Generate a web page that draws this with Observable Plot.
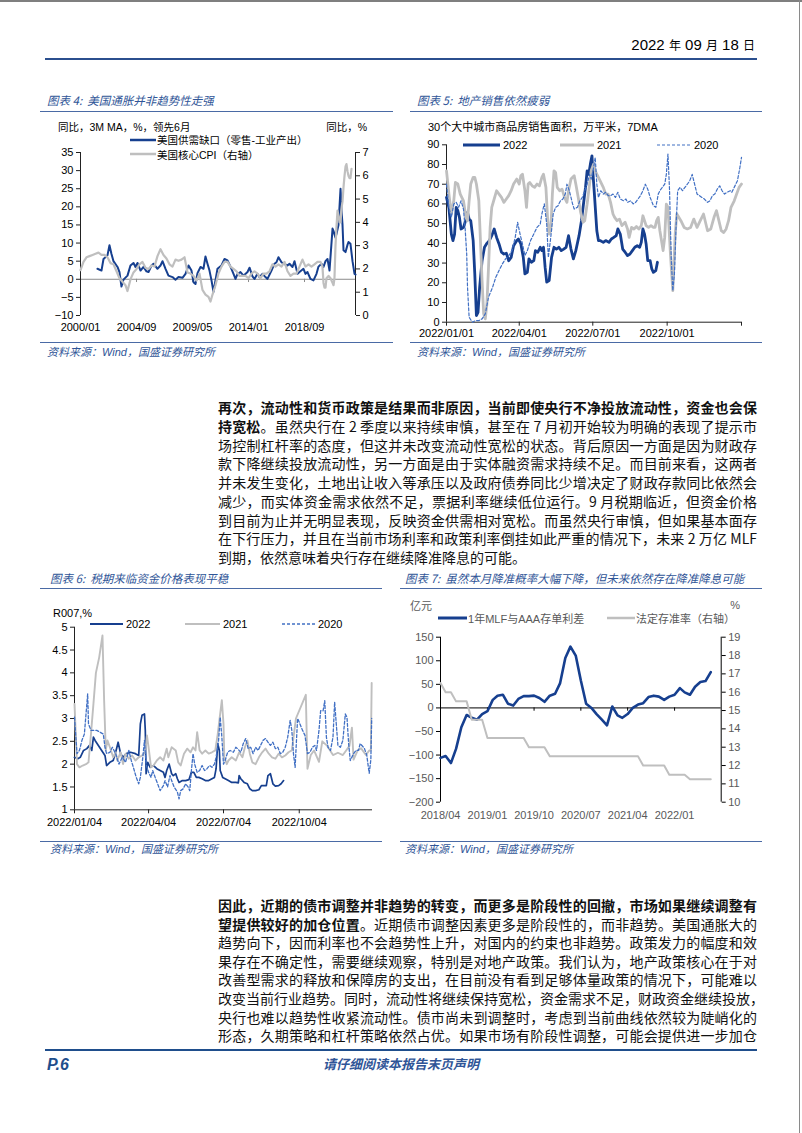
<!DOCTYPE html>
<html><head><meta charset="utf-8">
<script src="https://cdn.jsdelivr.net/npm/d3@7"></script>
<script src="https://cdn.jsdelivr.net/npm/@observablehq/plot@0.6"></script>
<style>
html,body{margin:0;padding:0;background:#fff;}
#page{position:relative;width:802px;height:1133px;overflow:hidden;background:#fff;}
#page svg{position:absolute;overflow:visible;}
</style></head>
<body><div id="page"></div>
<script>
// ---------------- DATA ----------------
// Chart 4: US core CPI YoY (right axis) and supply-demand gap (left axis, lead 6m)
const cpiCore = [["2000-01",1.95],["2000-04",2.3],["2000-07",2.5],["2000-10",2.55],["2001-01",2.6],["2001-04",2.65],["2001-07",2.7],["2001-10",2.6],["2002-01",2.6],["2002-04",2.5],["2002-07",2.25],["2002-10",2.2],["2003-01",1.9],["2003-04",1.6],["2003-07",1.45],["2003-10",1.3],["2003-12",1.05],["2004-03",1.55],["2004-06",1.85],["2004-09",2.0],["2004-12",2.2],["2005-03",2.3],["2005-06",2.05],["2005-09",2.0],["2005-12",2.15],["2006-03",2.1],["2006-06",2.55],["2006-09",2.85],["2006-12",2.6],["2007-03",2.45],["2007-06",2.2],["2007-09",2.1],["2007-12",2.4],["2008-03",2.35],["2008-06",2.4],["2008-09",2.5],["2008-12",1.85],["2009-03",1.8],["2009-06",1.7],["2009-09",1.5],["2009-12",1.8],["2010-03",1.1],["2010-06",0.9],["2010-09",0.8],["2010-11",0.6],["2011-01",0.9],["2011-04",1.3],["2011-07",1.8],["2011-10",2.1],["2012-01",2.3],["2012-04",2.3],["2012-07",2.1],["2012-10",2.0],["2013-01",1.9],["2013-04",1.7],["2013-07",1.7],["2013-10",1.7],["2014-01",1.6],["2014-04",1.8],["2014-07",1.9],["2014-10",1.8],["2015-01",1.6],["2015-04",1.8],["2015-07",1.8],["2015-10",1.9],["2016-01",2.2],["2016-04",2.1],["2016-07",2.2],["2016-10",2.1],["2017-01",2.3],["2017-04",1.9],["2017-07",1.7],["2017-10",1.8],["2018-01",1.8],["2018-04",2.1],["2018-07",2.4],["2018-10",2.1],["2019-01",2.2],["2019-04",2.1],["2019-07",2.2],["2019-10",2.3],["2020-01",2.3],["2020-03",2.1],["2020-04",1.4],["2020-05",1.2],["2020-06",1.2],["2020-07",1.6],["2020-09",1.7],["2020-11",1.6],["2021-01",1.4],["2021-02",1.3],["2021-03",1.6],["2021-04",3.0],["2021-05",3.8],["2021-06",4.5],["2021-07",4.3],["2021-08",4.0],["2021-09",4.0],["2021-10",4.6],["2021-11",4.9],["2021-12",5.5],["2022-01",6.0],["2022-02",6.4],["2022-03",6.5],["2022-04",6.2],["2022-05",6.0],["2022-06",5.9],["2022-07",5.9],["2022-08",6.3]];
const supplyGap = [["2001-06",2.9],["2001-10",2.4],["2001-12",5.6],["2002-04",6.6],["2002-06",9.4],["2002-08",7.0],["2002-10",5.0],["2003-02",3.4],["2003-04",2.0],["2003-06",-2.0],["2003-08",-0.1],["2003-12",1.0],["2004-03",3.8],["2004-06",4.5],["2004-08",3.4],["2004-10",4.5],["2005-01",2.4],["2005-04",3.4],["2005-07",2.2],["2005-09",2.0],["2005-12",3.8],["2006-02",4.3],["2006-06",2.9],["2006-09",3.8],["2006-11",5.0],["2007-02",2.9],["2007-05",1.0],["2007-09",0.6],["2007-12",-0.1],["2008-03",0.6],["2008-07",0.4],["2008-10",1.5],["2009-01",3.8],["2009-04",2.4],["2009-06",-0.8],["2009-08",-1.3],["2009-10",1.7],["2010-01",3.4],["2010-04",2.9],["2010-06",6.3],["2010-08",4.3],["2010-10",2.4],["2010-12",-0.3],["2011-02",-3.5],["2011-04",-0.3],["2011-06",2.9],["2011-10",3.8],["2012-01",5.6],["2012-04",5.2],["2012-07",3.5],["2012-10",1.5],["2012-12",0.1],["2013-02",1.5],["2013-05",2.0],["2013-08",1.0],["2013-12",2.0],["2014-02",3.2],["2014-05",0.8],["2014-07",0.1],["2014-10",1.5],["2014-12",0.6],["2015-03",1.5],["2015-06",0.6],["2015-08",0.1],["2015-12",2.4],["2016-03",4.3],["2016-05",4.7],["2016-07",6.1],["2016-10",4.7],["2016-12",4.3],["2017-04",3.8],["2017-06",4.3],["2017-09",3.4],["2017-11",5.0],["2018-02",1.5],["2018-04",2.0],["2018-08",2.9],["2018-10",1.5],["2018-12",2.0],["2019-03",0.1],["2019-06",-0.3],["2019-09",1.5],["2019-11",3.5],["2020-02",4.3],["2020-04",3.4],["2020-06",5.0],["2020-08",5.6],["2020-10",2.4],["2021-01",14.0],["2021-02",13.3],["2021-04",11.5],["2021-05",12.5],["2021-07",15.0],["2021-09",25.0],["2021-10",19.0],["2021-11",15.0],["2021-12",8.0],["2022-02",7.5],["2022-04",9.5],["2022-05",10.3],["2022-07",9.8],["2022-09",5.0],["2022-11",1.5],["2022-12",1.3]];
const c4XTicks = ["2000-01","2004-09","2009-05","2014-01","2018-09"];

// Chart 5: 30-city property sales area, 7DMA (day of year, value)
const sales2022 = [[0,63.3],[3,58],[6,44.7],[8,41.4],[10,44.7],[12,58.3],[14,56.6],[16,53.2],[18,47.3],[21,48.1],[23,50.7],[26,55.7],[28,52.3],[30,51.5],[33,41.4],[35,24.5],[37,3.4],[39,5],[41,17.7],[44,31.2],[47,38],[50,40],[53,41.4],[56,43.9],[59,47.3],[62,43],[65,39.7],[68,35.5],[71,34.6],[74,35],[77,31.2],[80,32.9],[83,38.8],[87,41.4],[89,42.2],[92,39.7],[95,32.9],[97,24.5],[100,25.3],[102,32.1],[105,30.4],[108,31.2],[110,36.3],[113,35.5],[116,38],[118,36.3],[120,38],[122,27.9],[124,20.3],[127,21.1],[130,32.9],[133,38],[136,37.1],[139,38],[142,36.3],[145,37.1],[148,38],[151,43.9],[154,37.1],[157,32.1],[160,36.3],[164,43.9],[167,51.5],[169,58.3],[172,68.4],[174,76.8],[176,75.1],[178,80.2],[180,84.4],[181,76.8],[183,65],[186,46.4],[188,41.4],[190,41.4],[194,40.5],[197,41.4],[201,40.5],[204,42.2],[207,43],[210,43.9],[212,47.3],[215,44.7],[218,37.1],[221,35.5],[224,33.8],[227,34.6],[230,36.3],[233,38],[236,38.8],[239,38],[241,40.5],[243,47.3],[245,44.7],[247,39.7],[249,31.2],[252,31.2],[254,27],[256,25.3],[259,26.2],[261,30.4]];
const sales2021 = [[0,76.8],[3,65],[6,54.9],[9,61.6],[11,70.9],[14,70.1],[17,65],[21,61.6],[24,53.2],[26,51.5],[28,61.6],[30,70.1],[33,73.5],[35,73.5],[37,70.1],[40,61.6],[42,41.4],[44,21.1],[46,4.2],[48,1.7],[50,9.3],[52,27.9],[54,48.1],[56,58.3],[59,62.5],[62,66.7],[65,65],[68,63.3],[71,60.8],[74,62.5],[77,64.2],[80,66.7],[83,70.1],[87,72.6],[90,70.1],[92,74.3],[94,75.1],[97,66.7],[99,58.3],[101,70.1],[103,70.9],[106,69.2],[109,68.4],[112,70.1],[115,69.2],[118,73.5],[120,75.1],[123,68.4],[125,53.2],[127,44.7],[129,46.4],[131,65],[133,76.8],[135,76],[137,68.4],[140,66.7],[143,67.5],[146,63.3],[149,60.8],[151,66.7],[154,72.6],[158,74.3],[160,70.1],[163,63.3],[166,55.7],[169,50.7],[171,51.5],[174,59.9],[177,70.1],[179,76.8],[182,80.2],[184,76.8],[188,73.5],[191,70.9],[194,68.4],[197,65],[200,65],[203,60.8],[206,54.9],[208,53.2],[211,51.5],[214,52.3],[217,49],[221,50.7],[224,47.3],[226,43],[229,48.1],[232,47.3],[235,48.5],[238,47.3],[241,49],[243,54],[245,51.5],[247,49],[250,48.1],[253,49],[256,48.1],[258,48.1],[260,51.5],[262,53.2],[264,46.4],[266,41.4],[268,36.3],[270,43],[272,59.9],[274,58.3],[277,35],[280,16],[283,45],[285,54.9],[290,51.5],[294,48.1],[298,47.3],[302,48],[306,52.3],[310,48.1],[314,51.5],[318,54.9],[323,46.4],[327,47.3],[331,53.2],[334,56.6],[337,51.5],[340,46.4],[343,45.5],[346,47.3],[349,51.5],[352,58.3],[356,61.6],[359,65],[362,68.4],[365,70.1]];
const sales2020 = [[0,70],[3,58.3],[6,53.2],[9,60],[12,60.8],[15,58.3],[18,61.6],[21,57.4],[23,48],[25,34.6],[26,17.7],[28,2.5],[32,0],[36,0.8],[40,0.8],[44,1.7],[48,4.2],[52,12.7],[57,17.7],[61,22.8],[65,26.2],[69,29.5],[73,32.1],[77,33.8],[81,36.3],[85,43],[88,50.7],[91,44.7],[94,39.7],[97,33.8],[100,36.3],[104,41.4],[108,44.7],[112,48.1],[116,49.8],[118,54.9],[121,60],[124,49.8],[126,32.9],[129,43],[132,54.9],[135,58.3],[138,59.1],[141,61.6],[144,62.5],[147,65],[149,70],[152,66.7],[156,60],[158,57.4],[162,58.3],[165,61.6],[168,63.3],[171,66.7],[174,70],[177,75],[179,72.6],[182,78.5],[184,83.6],[186,70],[188,63.3],[191,66.7],[194,65],[197,65.9],[200,64.2],[203,64.2],[206,65],[209,63.3],[212,65.9],[215,62.5],[219,61.6],[222,62.5],[224,60.8],[228,61.6],[231,60],[234,60.8],[237,62.5],[240,64.2],[243,66.7],[246,70],[249,67.5],[252,63.3],[256,59.1],[259,58.3],[262,65],[264,66.7],[267,68.4],[270,70],[272,75],[274,85.3],[276,66.7],[278,32.9],[280,16],[282,24.5],[284,48.1],[286,66.7],[289,68.4],[292,66.7],[295,68.4],[298,70],[301,71.8],[304,75],[307,70],[310,65],[313,64.2],[316,63.3],[319,62.5],[323,60.8],[326,61.6],[329,64.2],[332,65],[335,67.5],[338,69.2],[341,66.7],[344,65],[347,65.9],[351,66.7],[353,65.9],[356,68.4],[360,71.8],[363,78.5],[365,83.6]];
const c5XTicks = ["2022-01-01","2022-04-01","2022-07-01","2022-10-01","2023-01-01"];

// Chart 6: R007 (%), days since Jan 4
const r2022 = [[0,2.15],[4,2.12],[7,2.15],[11,2.3],[15,2.34],[18,2.41],[21,2.3],[23,2.59],[25,2.52],[29,2.41],[33,2.3],[37,2.19],[39,1.97],[43,2.04],[47,2.08],[50,2.26],[53,2.48],[56,2.23],[59,2.15],[63,2.23],[68,2.26],[74,2.23],[78,2.19],[80,2.88],[82,3.07],[85,3.1],[86,2.74],[87,1.79],[89,2.04],[92,1.93],[96,1.97],[100,1.9],[104,1.86],[108,1.82],[110,1.71],[112,1.86],[115,2.0],[118,1.79],[120,1.75],[123,1.79],[125,1.68],[127,1.6],[131,1.64],[135,1.64],[139,1.66],[142,1.82],[145,1.82],[148,1.71],[151,1.71],[155,1.68],[159,1.64],[163,1.64],[167,1.68],[170,1.71],[172,1.9],[174,2.45],[176,2.3],[177,1.86],[180,1.71],[183,1.68],[187,1.64],[191,1.6],[196,1.6],[199,1.59],[200,1.75],[202,1.68],[206,1.6],[210,1.57],[213,1.46],[216,1.42],[220,1.42],[224,1.44],[227,1.53],[230,1.53],[233,1.53],[235,1.75],[238,1.79],[241,1.57],[244,1.52],[248,1.53],[251,1.57],[254,1.64]];
const r2021 = [[0,3.32],[3,2.0],[6,1.93],[10,1.97],[14,2.0],[17,2.04],[20,2.66],[23,3.32],[26,4.0],[30,4.34],[34,4.82],[36,3.39],[38,2.3],[40,2.52],[43,2.37],[47,2.15],[50,2.26],[52,2.08],[56,2.26],[59,2.0],[62,2.23],[66,2.12],[70,2.19],[74,2.08],[78,2.15],[82,2.19],[86,2.26],[88,2.63],[90,2.37],[93,1.93],[96,1.97],[100,2.08],[104,2.15],[108,2.08],[112,2.34],[114,2.15],[118,2.37],[123,2.3],[126,2.04],[129,1.97],[133,2.23],[137,2.34],[141,2.26],[144,2.37],[147,2.3],[149,2.7],[152,2.3],[155,2.23],[159,2.3],[163,2.23],[167,2.26],[171,2.3],[174,2.66],[176,2.96],[179,3.4],[181,2.88],[182,2.15],[185,2.0],[187,2.08],[191,2.15],[196,2.08],[200,2.26],[204,2.15],[207,2.37],[210,2.52],[213,2.23],[216,2.04],[220,2.0],[224,2.15],[228,2.26],[232,2.34],[236,2.23],[240,2.15],[244,2.12],[248,2.23],[252,2.15],[256,2.19],[260,2.26],[264,2.3],[269,3.0],[281,3.52],[283,1.9],[287,2.2],[291,2.3],[297,2.05],[301,2.5],[307,2.4],[314,2.2],[320,2.25],[326,2.2],[330,2.3],[334,2.4],[337,2.8],[339,2.1],[344,2.3],[348,2.35],[354,2.2],[358,2.3],[360,2.3],[361,3.78]];
const r2020 = [[0,3.03],[3,2.23],[6,2.3],[9,2.52],[12,2.66],[14,3.1],[16,3.54],[17,2.88],[20,2.74],[23,2.74],[27,2.74],[31,2.7],[35,2.66],[37,2.37],[39,2.23],[43,2.26],[46,2.37],[50,2.23],[54,2.0],[58,2.15],[62,2.04],[66,2.3],[69,2.08],[72,1.9],[75,1.71],[78,1.57],[80,1.71],[83,2.15],[85,2.52],[87,2.0],[90,1.82],[93,1.71],[95,1.86],[98,1.71],[101,1.57],[104,1.42],[108,1.53],[110,1.64],[113,1.5],[116,1.75],[118,1.64],[121,1.5],[125,1.39],[127,1.24],[129,1.42],[132,1.46],[135,1.57],[138,1.5],[140,1.42],[142,1.86],[144,2.23],[146,2.0],[149,1.82],[152,1.86],[155,1.97],[158,1.86],[161,1.9],[164,1.97],[167,1.93],[170,2.0],[172,2.15],[175,2.52],[177,3.03],[179,2.59],[181,2.0],[183,2.08],[186,2.26],[189,2.3],[193,2.26],[196,2.37],[198,2.34],[202,2.26],[205,2.45],[208,2.56],[211,2.34],[214,2.37],[217,2.23],[220,2.37],[223,2.3],[226,2.41],[229,2.52],[232,2.56],[235,2.48],[238,2.41],[241,2.48],[244,2.34],[247,2.37],[250,2.23],[253,2.26],[256,2.37],[259,2.59],[262,2.96],[264,2.74],[266,2.23],[268,1.93],[271,3.0],[273,2.92],[277,2.74],[280,2.63],[283,2.23],[286,2.26],[289,2.37],[292,2.41],[294,2.3],[297,2.74],[299,3.17],[302,3.17],[304,3.39],[306,2.59],[308,2.37],[311,2.3],[314,2.59],[316,3.36],[318,2.88],[320,2.41],[323,2.37],[326,2.52],[329,3.1],[331,3.03],[333,2.45],[335,2.08],[339,2.23],[342,2.3],[345,2.3],[347,2.45],[352,2.35],[355,2.2],[358,1.8],[360,2.1],[361,3.0]];
const c6XTicks = ["2022-01-04","2022-04-04","2022-07-04","2022-10-04"];

// Chart 7: 1Y MLF - AAA NCD spread (bp, monthly from 2018/04) and RRR (%)
const spreadStart = "2018-04";
const mlfSpread = [-106,-102,-117,-87,-41,-15,-21,-25,-13,-7,17,26,28,9,5,19,25,25,26,21,13,26,30,52,106,130,111,58,9,0,-13,-25,-37,3,-16,-21,-13,0,7,10,23,26,24,17,24,28,42,33,28,45,55,57,76];
const rrr = [16.5,16,16,15.5,15.5,15.5,14.5,14.5,14.5,13.5,13.5,13.5,13.5,13.5,13.5,13.5,13.5,13,13,13,13,12.5,12.5,12.5,12.5,12.5,12.5,12.5,12.5,12.5,12.5,12.5,12.5,12.5,12.5,12.5,12.5,12.5,12.5,12,12,12,12,12,11.5,11.5,11.5,11.5,11.25,11.25,11.25,11.25,11.25];
const c7XTicks = ["2018-04","2019-01","2019-10","2020-07","2021-04","2022-01"];

// ---------------- HELPERS ----------------
const PAGE = document.getElementById("page");
const CJK = "'Noto Sans CJK SC','Noto Sans',sans-serif";
const LAT = "'Liberation Sans',Arial,'Noto Sans CJK SC',sans-serif";
const BLUE = "#163f8f", GRAY = "#bfbfbf", DASH = "#4170c4", TBLUE = "#2f5597";
const ym = s => { const [y, m] = s.split("-").map(Number); return new Date(y, m - 1, 1); };
const ymd = s => { const [y, m, d] = s.split("-").map(Number); return new Date(y, m - 1, d); };

function el(css, html) { const e = document.createElement("div"); e.style.cssText = css; if (html != null) e.innerHTML = html; PAGE.appendChild(e); return e; }
function text(s, x, y, o = {}) {
  const size = o.size || 11, lh = Math.round(size * (o.lh || 1.2));
  let css = `position:absolute;white-space:nowrap;top:${y - lh / 2}px;height:${lh}px;line-height:${lh}px;font-size:${size}px;font-family:${o.font || CJK};color:${o.color || "#000"};font-weight:${o.weight || 400};font-style:${o.italic ? "italic" : "normal"};`;
  if (o.anchor === "end") css += `right:${802 - x}px;`;
  else if (o.anchor === "middle") css += `left:${x}px;transform:translateX(-50%);`;
  else css += `left:${x}px;`;
  return el(css, s);
}
function hline(x1, x2, y, w, color) {
  el(`position:absolute;left:${x1}px;width:${x2 - x1}px;top:${y - w / 2}px;height:0;border-top:${w}px solid ${color};`);
}
function vline(x, y1, y2, w, color) {
  el(`position:absolute;left:${x - w / 2}px;top:${y1}px;height:${y2 - y1}px;width:0;border-left:${w}px solid ${color};`);
}
function swatch(x1, x2, y, w, color, dash) {
  const svgNS = "http://www.w3.org/2000/svg";
  const s = document.createElementNS(svgNS, "svg");
  s.setAttribute("width", x2 - x1); s.setAttribute("height", 8);
  s.style.cssText = `position:absolute;left:${x1}px;top:${y - 4}px;`;
  const l = document.createElementNS(svgNS, "line");
  l.setAttribute("x1", 0); l.setAttribute("x2", x2 - x1); l.setAttribute("y1", 4); l.setAttribute("y2", 4);
  l.setAttribute("stroke", color); l.setAttribute("stroke-width", w);
  if (dash) l.setAttribute("stroke-dasharray", dash);
  s.appendChild(l); PAGE.appendChild(s);
}
function place(svg, x, y) { svg.style.left = x + "px"; svg.style.top = y + "px"; PAGE.appendChild(svg); }
const plotStyle = (color) => ({fontFamily: LAT, fontSize: "11px", color: color || "#000", background: "none", overflow: "visible"});
const L = s => `<span style="font-family:${LAT}">${s}</span>`;

// ---------------- PAGE FRAME ----------------
hline(0, 802, 1, 2, "#7f7f7f");
vline(800, 0, 1133, 1.5, "#8a8a8a");
el(`position:absolute;right:${802 - 755}px;top:35px;height:20px;line-height:20px;white-space:nowrap;font-family:${LAT};font-size:15px;color:#000;`,
  `2022 <span style="font-family:${CJK};font-size:12px">年</span> 09 <span style="font-family:${CJK};font-size:12px">月</span> 18 <span style="font-family:${CJK};font-size:12px">日</span>`);
hline(45, 757, 59, 2, "#2b4f8e");

function chartFrame(title, tx, ty, x1, x2, lineTop, lineBot, srcX, srcY) {
  text(title, tx, ty, {size: 11.5, italic: true, color: TBLUE});
  hline(x1, x2, lineTop, 1.6, "#4a6aa5");
  hline(x1, x2, lineBot, 1.6, "#4a6aa5");
  text("资料来源：" + L("Wind") + "，国盛证券研究所", srcX, srcY, {size: 11, italic: true, color: TBLUE});
}
chartFrame("图表 4:&nbsp; 美国通胀并非趋势性走强", 47, 100, 40, 393, 111.5, 343, 47, 351);
chartFrame("图表 5:&nbsp; 地产销售依然疲弱", 417, 100, 410, 762, 111.5, 343, 417, 351);
chartFrame("图表 6:&nbsp; 税期来临资金价格表现平稳", 50, 578, 40, 382, 589, 842, 50, 848);
chartFrame("图表 7:&nbsp; 虽然本月降准概率大幅下降，但未来依然存在降准降息可能", 405, 578, 400, 762, 589, 842, 405, 848);

// ---------------- CHART 4 ----------------
{
  const toL = v => -10 + v * 45 / 7;
  const gap = supplyGap.map(([d, v]) => ({date: ym(d), v}));
  const cpi = cpiCore.map(([d, v]) => ({date: ym(d), v}));
  const ticks = c4XTicks.map(ym);
  const x0 = ym("2000-01"), x1 = ym("2022-12");
  const svg = Plot.plot({
    width: 350, height: 225, marginLeft: 40, marginRight: 35, marginTop: 37, marginBottom: 25,
    style: plotStyle(),
    x: {type: "time", domain: [x0, x1]},
    y: {domain: [-10, 35]},
    marks: [
      Plot.ruleY([0], {stroke: "#8c8c8c", strokeWidth: 1}),
      Plot.ruleX(ticks.slice(1), {y1: 0, y2: -0.9, stroke: "#8c8c8c"}),
      Plot.ruleX([x0], {stroke: "#222", strokeWidth: 1}),
      Plot.ruleX([x1], {stroke: "#222", strokeWidth: 1}),
      Plot.axisY(d3.range(-10, 36, 5), {anchor: "left", tickSize: 4, tickPadding: 3, label: null, stroke: "#222"}),
      Plot.axisY(d3.range(0, 8).map(toL), {anchor: "right", tickSize: 4, tickPadding: 3, label: null, stroke: "#222", tickFormat: d => String(Math.round((d + 10) * 7 / 45))}),
      Plot.axisX(ticks, {anchor: "bottom", tickSize: 0, tickPadding: 8, label: null, tickFormat: d3.timeFormat("%Y/%m")}),
      Plot.line(gap, {x: "date", y: "v", stroke: BLUE, strokeWidth: 2}),
      Plot.line(cpi, {x: "date", y: d => toL(d.v), stroke: GRAY, strokeWidth: 2.2})
    ]
  });
  place(svg, 40, 115);
  text("同比，" + L("3M MA") + "，" + L("%") + "，领先" + L("6") + "月", 58, 126.5, {size: 10.5, lh: 1.05});
  text("同比，" + L("%"), 367, 126.5, {size: 10.5, anchor: "end", lh: 1.05});
  swatch(130, 156, 139.5, 2.5, BLUE);
  text("美国供需缺口（零售" + L("-") + "工业产出）", 157, 139.5, {size: 10.5, lh: 1.05});
  swatch(130, 156, 154, 2.5, GRAY);
  text("美国核心" + L("CPI") + "（右轴）", 157, 154, {size: 10.5, lh: 1.05});
}

// ---------------- CHART 5 ----------------
{
  const base = new Date(2022, 0, 1);
  const conv = arr => arr.map(([d, v]) => ({date: d3.timeDay.offset(base, d), v}));
  const ticks = c5XTicks.map(ymd);
  const end = ticks[ticks.length - 1];
  const svg = Plot.plot({
    width: 350, height: 225, marginLeft: 36, marginRight: 19, marginTop: 29.3, marginBottom: 18.3,
    style: plotStyle(),
    x: {type: "time", domain: [base, end]},
    y: {domain: [0, 90]},
    marks: [
      Plot.ruleY([0], {stroke: "#222"}),
      Plot.ruleX([base], {stroke: "#222"}),
      Plot.axisY(d3.range(0, 91, 10), {anchor: "left", tickSize: 4, tickPadding: 3, label: null, stroke: "#222"}),
      Plot.axisX(ticks, {anchor: "bottom", tickSize: 4, tickPadding: 3, label: null, stroke: "#222", tickFormat: d => +d === +end ? "" : d3.timeFormat("%Y/%m/%d")(d)}),
      Plot.line(conv(sales2022), {x: "date", y: "v", stroke: BLUE, strokeWidth: 2.8}),
      Plot.line(conv(sales2021), {x: "date", y: "v", stroke: GRAY, strokeWidth: 2.8}),
      Plot.line(conv(sales2020), {x: "date", y: "v", stroke: DASH, strokeWidth: 1.2, strokeDasharray: "3,2"})
    ]
  });
  place(svg, 410, 115);
  text(L("30") + "个大中城市商品房销售面积，万平米，" + L("7DMA"), 428, 126.5, {size: 11});
  swatch(463, 500, 145, 3, BLUE);
  text("2022", 503, 145, {size: 11, font: LAT});
  swatch(560, 594, 145, 3, GRAY);
  text("2021", 597, 145, {size: 11, font: LAT});
  swatch(657, 691, 145, 1.2, DASH, "3,2");
  text("2020", 694, 145, {size: 11, font: LAT});
}

// ---------------- CHART 6 ----------------
{
  const base = new Date(2022, 0, 4);
  const conv = arr => arr.map(([d, v]) => ({date: d3.timeDay.offset(base, d), v}));
  const ticks = c6XTicks.map(ymd);
  const end = new Date(2023, 0, 1);
  const svg = Plot.plot({
    width: 345, height: 240, marginLeft: 34, marginRight: 13, marginTop: 31.7, marginBottom: 25.7,
    style: plotStyle(),
    x: {type: "time", domain: [base, end]},
    y: {domain: [1, 5]},
    marks: [
      Plot.ruleY([1], {stroke: "#222"}),
      Plot.ruleX([base], {stroke: "#222"}),
      Plot.axisY(d3.range(1, 5.01, 0.5), {anchor: "left", tickSize: 4, tickPadding: 3, label: null, stroke: "#222", tickFormat: d => String(d)}),
      Plot.axisX(ticks, {anchor: "bottom", tickSize: 4, tickPadding: 4, label: null, stroke: "#222", tickFormat: d3.timeFormat("%Y/%m/%d")}),
      Plot.line(conv(r2022), {x: "date", y: "v", stroke: BLUE, strokeWidth: 1.7}),
      Plot.line(conv(r2021), {x: "date", y: "v", stroke: GRAY, strokeWidth: 1.9}),
      Plot.line(conv(r2020), {x: "date", y: "v", stroke: DASH, strokeWidth: 1.3, strokeDasharray: "3,2"})
    ]
  });
  place(svg, 40, 595);
  text(L("R007,%"), 53, 612, {size: 11});
  swatch(90, 123, 624, 1.8, BLUE);
  text("2022", 126, 624, {size: 11, font: LAT});
  swatch(185, 220, 624, 2, GRAY);
  text("2021", 223, 624, {size: 11, font: LAT});
  swatch(282, 315, 624, 1.3, DASH, "3,2");
  text("2020", 318, 624, {size: 11, font: LAT});
}

// ---------------- CHART 7 ----------------
{
  const start = ym(spreadStart);
  const sp = mlfSpread.map((v, i) => ({date: d3.timeMonth.offset(start, i), v}));
  const rr = rrr.map((v, i) => ({date: d3.timeMonth.offset(start, i), v}));
  const toL = v => -200 + (v - 10) * 350 / 9;
  const ticks = c7XTicks.map(ym);
  const end = ym("2022-10");
  const svg = Plot.plot({
    width: 360, height: 240, marginLeft: 40, marginRight: 39.3, marginTop: 41.7, marginBottom: 33.3,
    style: plotStyle("#595959"),
    x: {type: "time", domain: [start, end]},
    y: {domain: [-200, 150]},
    marks: [
      Plot.ruleY([0], {stroke: "#000"}),
      Plot.ruleX(ticks.slice(1), {y1: 0, y2: -7, stroke: "#000"}),
      Plot.ruleX([start], {stroke: "#000"}),
      Plot.ruleX([end], {stroke: "#000"}),
      Plot.axisY(d3.range(-200, 151, 50), {anchor: "left", tickSize: 4, tickPadding: 3, label: null, stroke: "#000"}),
      Plot.axisY(d3.range(10, 20).map(toL), {anchor: "right", tickSize: 4, tickPadding: 3, label: null, stroke: "#000", tickFormat: d => String(Math.round(10 + (d + 200) * 9 / 350))}),
      Plot.axisX(ticks, {anchor: "bottom", tickSize: 0, tickPadding: 9, label: null, tickFormat: d3.timeFormat("%Y/%m")}),
      Plot.line(sp, {x: "date", y: "v", stroke: BLUE, strokeWidth: 2.6}),
      Plot.line(rr, {x: "date", y: d => toL(d.v), stroke: GRAY, strokeWidth: 2})
    ]
  });
  place(svg, 400, 595);
  text("亿元", 410, 605, {size: 11, color: "#595959"});
  text("%", 740, 605, {size: 11, font: LAT, color: "#595959", anchor: "end"});
  swatch(438, 467, 618, 3, BLUE);
  text(L("1") + "年" + L("MLF") + "与" + L("AAA") + "存单利差", 468, 618, {size: 11, color: "#595959"});
  swatch(607, 635, 618, 2.5, GRAY);
  text("法定存准率（右轴）", 636, 618, {size: 11, color: "#595959"});
}

// ---------------- BODY TEXT ----------------
const para1 = [
  "<b>再次，流动性和货币政策是结果而非原因，当前即使央行不净投放流动性，资金也会保</b>",
  "<b>持宽松</b>。虽然央行在 2 季度以来持续审慎，甚至在 7 月初开始较为明确的表现了提示市",
  "场控制杠杆率的态度，但这并未改变流动性宽松的状态。背后原因一方面是因为财政存",
  "款下降继续投放流动性，另一方面是由于实体融资需求持续不足。而目前来看，这两者",
  "并未发生变化，土地出让收入等承压以及政府债券同比少增决定了财政存款同比依然会",
  "减少，而实体资金需求依然不足，票据利率继续低位运行。9 月税期临近，但资金价格",
  "到目前为止并无明显表现，反映资金供需相对宽松。而虽然央行审慎，但如果基本面存",
  "在下行压力，并且在当前市场利率和政策利率倒挂如此严重的情况下，未来 2 万亿 MLF",
  "到期，依然意味着央行存在继续降准降息的可能。"
];
const para2 = [
  "<b>因此，近期的债市调整并非趋势的转变，而更多是阶段性的回撤，市场如果继续调整有</b>",
  "<b>望提供较好的加仓位置</b>。近期债市调整因素更多是阶段性的，而非趋势。美国通胀大的",
  "趋势向下，因而利率也不会趋势性上升，对国内的约束也非趋势。政策发力的幅度和效",
  "果存在不确定性，需要继续观察，特别是对地产政策。我们认为，地产政策核心在于对",
  "改善型需求的释放和保障房的支出，在目前没有看到足够体量政策的情况下，可能难以",
  "改变当前行业趋势。同时，流动性将继续保持宽松，资金需求不足，财政资金继续投放，",
  "央行也难以趋势性收紧流动性。债市尚未到调整时，考虑到当前曲线依然较为陡峭化的",
  "形态，久期策略和杠杆策略依然占优。如果市场有阶段性调整，可能会提供进一步加仓"
];
function paragraph(lines, y0, step, lastFull) {
  lines.forEach((s, i) => {
    const full = i < lines.length - 1 || lastFull;
    el(`position:absolute;left:218px;width:539px;top:${y0 + i * step - 9}px;height:18px;line-height:18px;font-family:${CJK};font-size:14px;color:#111;white-space:nowrap;text-align:${full ? "justify" : "left"};text-align-last:${full ? "justify" : "left"};`, s);
  });
}
paragraph(para1, 407, 18.75, false);
paragraph(para2, 905, 18.6, true);

// ---------------- FOOTER ----------------
hline(45, 757, 1050, 2.5, "#1f4e8c");
text("P.6", 47, 1064, {size: 16, font: LAT, italic: true, weight: 700, color: "#1f4e8c"});
text("请仔细阅读本报告末页声明", 401, 1064, {size: 13, italic: true, weight: 700, color: "#2f5597", anchor: "middle"});
</script>
</body></html>
